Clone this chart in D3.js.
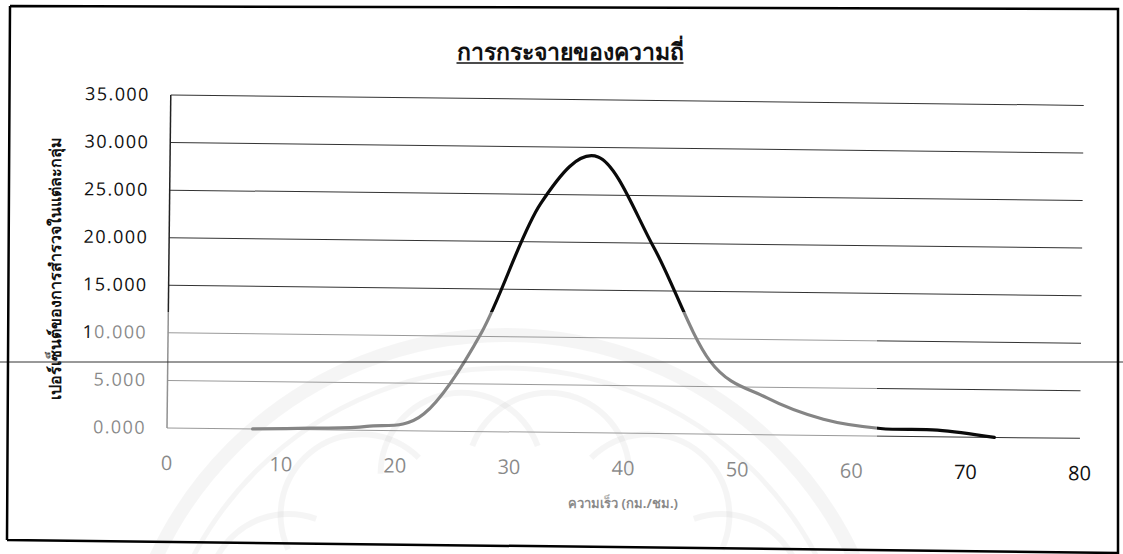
<!DOCTYPE html>
<html>
<head>
<meta charset="utf-8">
<script src="https://cdn.jsdelivr.net/npm/d3@7"></script>
<style>
  body { margin: 0; background: #fff; }
  svg { display: block; }
</style>
</head>
<body>
<svg id="chart" width="1123" height="554"></svg>
<script>
// Speed class midpoints (km/h) and share of observations in each class (%)
const speedMid = [7.5, 12.5, 17.5, 22.5, 27.5, 32.5, 37.5, 42.5, 47.5, 52.5, 57.5, 62.5, 67.5, 72.5];
const pctValues = [0.0, 0.15, 0.4, 1.8, 10.5, 24.0, 29.0, 19.5, 7.7, 3.9, 1.7, 0.8, 0.7, 0.0];
const yTicks = [0, 5, 10, 15, 20, 25, 30, 35];
const xTicks = [0, 10, 20, 30, 40, 50, 60, 70, 80];
const titleText = "การกระจายของความถี่";
const yTitleText = "เปอร์เซ็นต์ของการสำรวจในแต่ละกลุ่ม";
const xTitleText = "ความเร็ว (กม./ชม.)";

const svg = d3.select("#chart");
const W = 1123, H = 554;

const x = d3.scaleLinear().domain([0, 80]).range([167, 1080]);
const y = d3.scaleLinear().domain([0, 35]).range([428, 95]);

const thaiFont = "'Noto Sans', 'DejaVu Sans', sans-serif";
const numFont = "'Open Sans', 'Noto Sans', sans-serif";

// watermark seal (drawn first, faint)
const wm = svg.append("g").attr("fill", "none").attr("stroke", "rgba(0,0,0,0.08)");
const cx = 505, cy = 720;
wm.append("circle").attr("cx", cx).attr("cy", cy).attr("r", 385).attr("stroke-width", 14);
wm.append("circle").attr("cx", cx).attr("cy", cy).attr("r", 352).attr("stroke-width", 5);
[-150, -125, -100, -80, -55, -30].forEach(a => {
  const rad = a * Math.PI / 180;
  const px = cx + 250 * Math.cos(rad), py = cy + 250 * Math.sin(rad);
  wm.append("path")
    .attr("d", d3.arc()({innerRadius: 78, outerRadius: 84,
      startAngle: (a + 90 - 80) * Math.PI / 180, endAngle: (a + 90 + 80) * Math.PI / 180}))
    .attr("transform", `translate(${px},${py})`)
    .attr("fill", "rgba(0,0,0,0.08)").attr("stroke", "none");
});

// plot, slightly tilted like the printed page
const plot = svg.append("g").attr("transform", "rotate(0.65,167,428)");

plot.append("g").selectAll("line").data(yTicks).join("line")
  .attr("x1", x(0)).attr("x2", x(80))
  .attr("y1", d => y(d)).attr("y2", d => y(d))
  .attr("stroke", "#333").attr("stroke-width", 1);

plot.append("line")
  .attr("x1", x(0)).attr("x2", x(0)).attr("y1", y(35)).attr("y2", y(0))
  .attr("stroke", "#222").attr("stroke-width", 1.5);

plot.append("g").selectAll("text").data(yTicks).join("text")
  .attr("x", x(0) - 21).attr("y", d => y(d) + 6)
  .attr("text-anchor", "end")
  .attr("font-family", numFont).attr("font-size", 18)
  .attr("letter-spacing", 1.4)
  .attr("fill", "#111")
  .text(d => d3.format(".3f")(d));

plot.append("g").selectAll("text").data(xTicks).join("text")
  .attr("x", d => x(d)).attr("y", 470)
  .attr("text-anchor", "middle")
  .attr("font-family", numFont).attr("font-size", 20)
  .attr("fill", "#111")
  .text(d => d);

const pts = speedMid.map((s, i) => [s, pctValues[i]]);
const line = d3.line().x(d => x(d[0])).y(d => y(d[1])).curve(d3.curveCardinal.tension(0));
plot.append("path").datum(pts)
  .attr("d", line)
  .attr("fill", "none").attr("stroke", "#0a0a0a").attr("stroke-width", 3.2)
  .attr("stroke-linejoin", "round").attr("stroke-linecap", "round");

// titles
const title = svg.append("text")
  .attr("x", 570).attr("y", 60)
  .attr("text-anchor", "middle")
  .attr("font-family", thaiFont).attr("font-size", 23).attr("font-weight", "bold")
  .attr("fill", "#111")
  .text(titleText);
const tb = title.node().getBBox();
svg.append("line")
  .attr("x1", tb.x).attr("x2", tb.x + tb.width).attr("y1", 63).attr("y2", 63)
  .attr("stroke", "#111").attr("stroke-width", 1.6);

svg.append("text")
  .attr("transform", "translate(61,268) rotate(-90)")
  .attr("text-anchor", "middle")
  .attr("font-family", thaiFont).attr("font-size", 16).attr("font-weight", "bold")
  .attr("fill", "#111")
  .text(yTitleText);

svg.append("text")
  .attr("x", 623).attr("y", 508)
  .attr("text-anchor", "middle")
  .attr("font-family", thaiFont).attr("font-size", 13).attr("font-weight", "bold")
  .attr("fill", "#111")
  .text(xTitleText);

// faded band where the seal overlays the page
svg.append("rect")
  .attr("x", 90).attr("y", 312).attr("width", 787).attr("height", H - 312)
  .attr("fill", "#fff").attr("opacity", 0.5);

// stray rule across the page
svg.append("line")
  .attr("x1", 0).attr("x2", W).attr("y1", 362).attr("y2", 362)
  .attr("stroke", "#333").attr("stroke-width", 1);

// outer frame
svg.append("path")
  .attr("d", "M10,6 L1118,9 L1118,554 M7,540 L1118,553 M10,6 L7,540")
  .attr("fill", "none").attr("stroke", "#000").attr("stroke-width", 2.5);
</script>
</body>
</html>
